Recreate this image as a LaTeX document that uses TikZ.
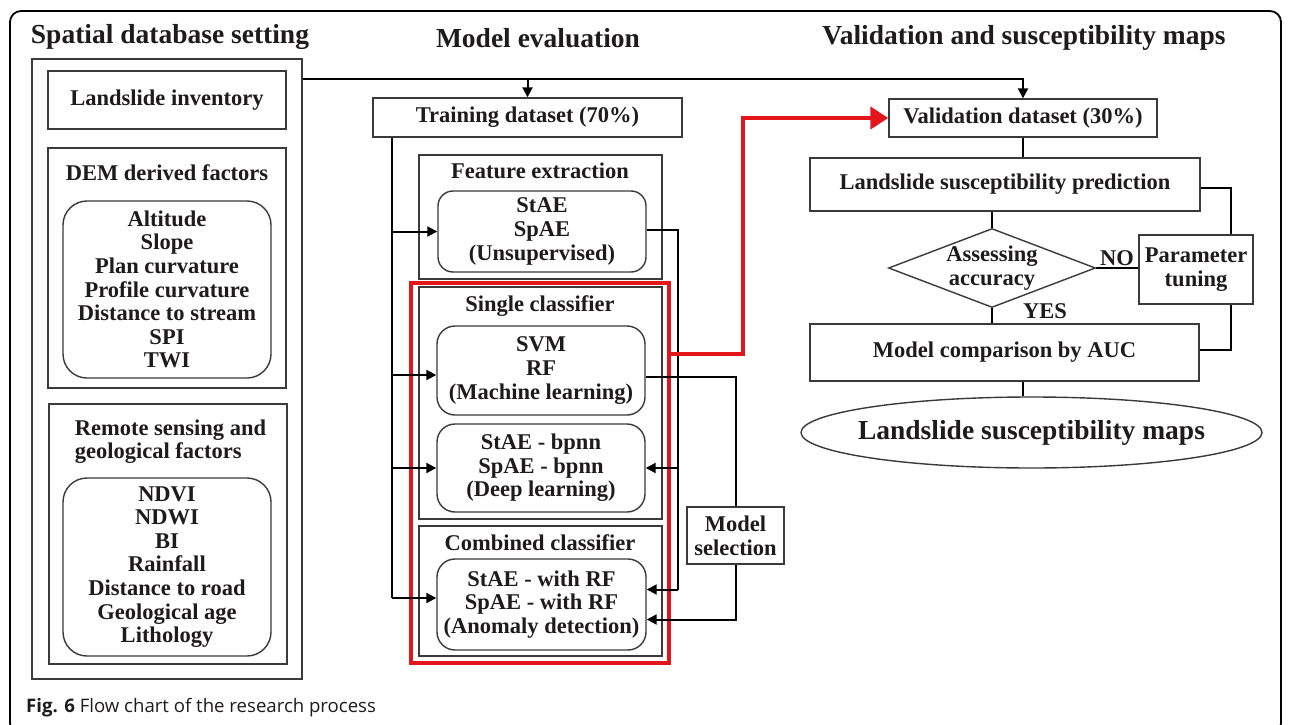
\documentclass[tikz,border=0pt]{standalone}
\usepackage{fontspec}
\setmainfont{Liberation Serif}
\newfontfamily\capfont{Open Sans}
\usetikzlibrary{arrows.meta,shapes.geometric}

\definecolor{ink}{HTML}{1E1B1C}
\definecolor{edge}{HTML}{3A3A3A}
\definecolor{alert}{HTML}{E3161D}

\newcommand\bodyfnt{\fontsize{22.5}{23.6}\selectfont\bfseries}
\newcommand\headfnt{\fontsize{27.5}{30}\selectfont\bfseries}

\tikzset{
  box/.style={draw=edge, line width=1.4pt, inner sep=0pt, align=center,
              font=\bodyfnt, text=ink},
  rbox/.style={box, rounded corners=24pt},
  txt/.style={inner sep=0pt, align=center, font=\bodyfnt, text=ink},
  head/.style={inner sep=0pt, font=\headfnt, text=ink},
  redbox/.style={draw=alert, line width=3.2pt, inner sep=0pt},
  conn/.style={draw=black, line width=2pt},
  tip/.style={-{Triangle[length=10pt,width=10pt]}},
  redconn/.style={draw=alert, line width=4.5pt,
                  -{Triangle[length=18pt,width=22pt]}},
}

\begin{document}
\begin{tikzpicture}[x=1pt,y=-1pt]
\clip (0,0) rectangle (1295,725);
\fill[white] (0,0) rectangle (1295,725);
% outer frame
\draw[line width=1.8pt, rounded corners=11pt] (10,11) rectangle (1281,734);

% column headings
\node[head] (h1) at (170,37) {Spatial database setting};
\node[head] (h2) at (538,38) {Model evaluation};
\node[head] (h3) at (1024,38) {Validation and susceptibility maps};

% ---------------- spatial database ----------------
\node[box, minimum width=270, minimum height=620] (spatial) at (167,369) {};
\node[box, minimum width=238, minimum height=58] (inv) at (167,100) {Landslide inventory};
\node[box, minimum width=238, minimum height=240] (dem) at (167,268) {};
\node[txt] (demt) at (167,173) {DEM derived factors};
\node[rbox, minimum width=208, minimum height=177] (demf) at (167,289.5)
  {Altitude\\Slope\\Plan curvature\\Profile curvature\\Distance to stream\\SPI\\TWI};
\node[box, minimum width=238, minimum height=260] (rs) at (168,534) {};
\node[txt, align=left] (rst) at (170.5,441.5) {Remote sensing and\\geological factors};
\node[rbox, minimum width=208, minimum height=178] (rsf) at (167,567)
  {NDVI\\NDWI\\BI\\Rainfall\\Distance to road\\Geological age\\Lithology};

% ---------------- model evaluation ----------------
\node[box, minimum width=309, minimum height=39] (train) at (527.5,117.5) {Training dataset (70\%)};
\node[box, minimum width=243, minimum height=124] (fe) at (540.5,217) {};
\node[txt] (fet) at (540,171) {Feature extraction};
\node[rbox, rounded corners=15pt, minimum width=208, minimum height=81] (fem) at (542,231.5)
  {StAE\\SpAE\\(Unsupervised)};
\node[redbox, minimum width=258, minimum height=380] (sel) at (540,473) {};
\node[box, minimum width=243, minimum height=232] (single) at (540.5,403) {};
\node[txt] (singlet) at (540,306) {Single classifier};
\node[rbox, rounded corners=18pt, minimum width=208, minimum height=89] (ml) at (541,370.5)
  {SVM\\RF\\(Machine learning)};
\node[rbox, rounded corners=18pt, minimum width=208, minimum height=88] (dl) at (541,468)
  {StAE - bpnn\\SpAE - bpnn\\(Deep learning)};
\node[box, minimum width=243, minimum height=130] (comb) at (540.5,591) {};
\node[txt] (combt) at (540,543) {Combined classifier};
\node[rbox, rounded corners=18pt, minimum width=209, minimum height=91] (ad) at (541.5,604.5)
  {StAE - with RF\\SpAE - with RF\\(Anomaly detection)};
\node[box, minimum width=97, minimum height=57] (msel) at (735.5,535.5) {Model\\selection};

% ---------------- validation ----------------
\node[box, minimum width=268, minimum height=38] (val) at (1023,118) {Validation dataset (30\%)};
\node[box, minimum width=390, minimum height=53] (pred) at (1005,184.5) {Landslide susceptibility prediction};
\node[diamond, draw=edge, line width=1.4pt, inner sep=0pt, minimum width=207, minimum height=79,
      label={[txt]center:Assessing\\accuracy}] (acc) at (992,268) {};
\node[box, minimum width=114, minimum height=69] (tune) at (1196,269.5) {Parameter\\tuning};
\node[box, minimum width=389, minimum height=57] (auc) at (1004.5,352.5) {Model comparison by AUC};
\node[ellipse, draw=edge, line width=1.4pt, inner sep=0pt, minimum width=461, minimum height=71,
      label={[head]center:Landslide susceptibility maps}] (maps) at (1031.5,432.5) {};
\node[txt] (lno) at (1117,258) {NO};
\node[txt] (lyes) at (1045,311) {YES};

% ---------------- connectors ----------------
\coordinate (bus) at (0,79);
\draw[conn, tip] (spatial.east |- bus) -| (val.north);
\draw[conn, tip] (train.north |- bus) -- (train.north);

% training data feeding every model
\coordinate (trunk) at (392,0);
\coordinate (feIn) at (fem.west);
\coordinate (mlIn) at ([yshift=-4.5pt]ml.west);
\coordinate (dlIn) at (dl.west);
\coordinate (adIn) at ([yshift=6.5pt]ad.west);
\draw[conn] (train.south -| trunk) -- (adIn -| trunk);
\foreach \c in {feIn,mlIn,dlIn,adIn} \draw[conn, tip] (\c -| trunk) -- (\c);

% extracted features to the classifiers
\coordinate (rail) at (678,0);
\coordinate (dlIn2) at (dl.east);
\coordinate (adIn2) at ([yshift=15pt]ad.east);
\draw[conn] ([yshift=2pt]fem.east) -| (adIn2 -| rail);
\draw[conn, tip] (dlIn2 -| rail) -- (dlIn2);
\draw[conn, tip] (adIn2 -| rail) -- (adIn2);

% model selection loop
\coordinate (mlOut) at ([yshift=-6.5pt]ml.east);
\coordinate (adIn3) at ([yshift=-15pt]ad.east);
\draw[conn] (mlOut) -| (msel.north);
\draw[conn, tip] (msel.south) |- (adIn3);

% selected models to validation
\coordinate (redOut) at ([yshift=119pt]sel.east);
\coordinate (redBend) at (743,0);
\draw[redconn] (redOut) -- (redOut -| redBend) -- (val.west -| redBend) -- (val.west);

% validation chain
\coordinate (loop) at (1231,0);
\coordinate (mid) at (1023,0);
\coordinate (predOut) at ([yshift=-3.5pt]pred.east);
\coordinate (aucIn) at ([yshift=2.5pt]auc.east);
\draw[conn] (val.south) -- (val.south |- pred.north);
\draw[conn] (predOut) -| (loop |- tune.north);
\draw[conn] (loop |- tune.south) |- (aucIn);
\draw[conn] (pred.south -| acc.north) -- (acc.north);
\draw[conn] (acc.east) -- (acc.east -| tune.west);
\draw[conn] (acc.south) -- (acc.south |- auc.north);
\draw[conn] (auc.south -| mid) -- (mid |- maps.north);

% caption
\node[anchor=west, inner sep=0pt, font=\capfont\fontsize{18.6}{22}\selectfont, text=ink] (cap)
  at (26,708) {\textbf{Fig. 6} Flow chart of the research process};
\end{tikzpicture}
\end{document}
